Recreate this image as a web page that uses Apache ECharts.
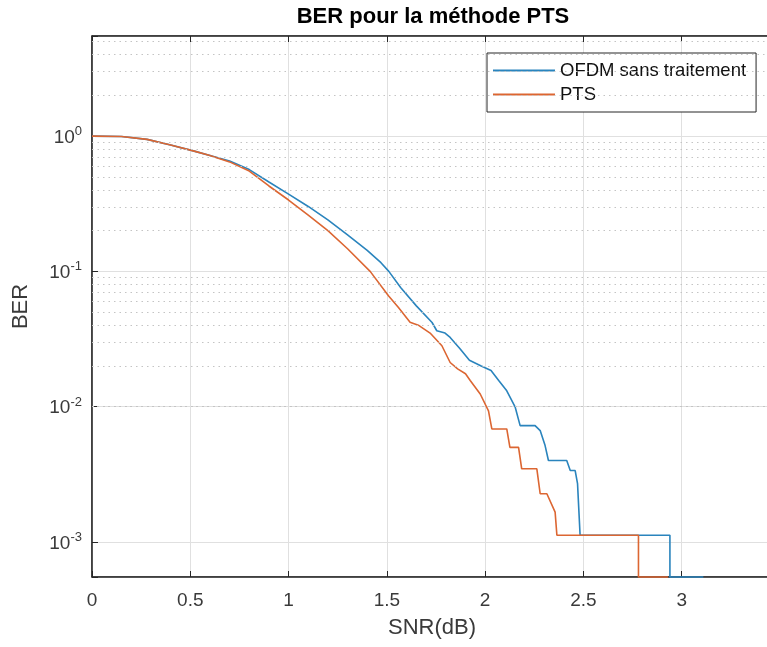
<!DOCTYPE html>
<html>
<head>
<meta charset="utf-8">
<script src="https://cdn.jsdelivr.net/npm/echarts@6/dist/echarts.min.js"></script>
<style>
  html, body { margin: 0; padding: 0; background: #fff; }
  #chart { width: 767px; height: 647px; }
</style>
</head>
<body>
<div id="chart"></div>
<script>
// axis limits
const X_MIN = 0
const X_MAX = 3.5
const Y_MIN = 5.5e-4
const Y_MAX = 5.5
// points that fall to zero are drawn on the bottom edge, like the log plot does
const BER_FLOOR = Y_MIN

// OFDM sans traitement
const ofdmSnr = [0, 0.15, 0.28, 0.40, 0.52, 0.60, 0.70, 0.80, 0.90, 1.00, 1.10, 1.20, 1.30, 1.40, 1.47, 1.51, 1.57, 1.65, 1.73, 1.754, 1.796, 1.822, 1.87, 1.92, 1.98, 2.03, 2.069, 2.11, 2.153, 2.178, 2.254, 2.28, 2.305, 2.322, 2.415, 2.433, 2.458, 2.47, 2.476, 2.483, 2.94, 2.94, 3.11]
const ofdmBer = [1, 0.995, 0.946, 0.859, 0.775, 0.72, 0.654, 0.566, 0.458, 0.373, 0.302, 0.24, 0.186, 0.143, 0.116, 0.1, 0.076, 0.0556, 0.0419, 0.0364, 0.035, 0.0325, 0.027, 0.022, 0.02, 0.0185, 0.0156, 0.0131, 0.0099, 0.00724, 0.00724, 0.00665, 0.00515, 0.0040, 0.0040, 0.00337, 0.00337, 0.0027, 0.0018, 0.00112, 0.00112, BER_FLOOR, BER_FLOOR]

// PTS
const ptsSnr = [0, 0.15, 0.28, 0.40, 0.52, 0.60, 0.70, 0.80, 0.90, 1.00, 1.10, 1.20, 1.30, 1.415, 1.508, 1.559, 1.618, 1.66, 1.72, 1.78, 1.822, 1.86, 1.90, 1.924, 1.975, 2.017, 2.034, 2.11, 2.126, 2.17, 2.186, 2.263, 2.28, 2.314, 2.356, 2.365, 2.78, 2.78, 2.93]
const ptsBer = [1, 0.995, 0.946, 0.859, 0.775, 0.718, 0.645, 0.552, 0.428, 0.337, 0.261, 0.2, 0.147, 0.1, 0.066, 0.054, 0.042, 0.04, 0.035, 0.0282, 0.0212, 0.019, 0.0175, 0.0156, 0.0124, 0.0093, 0.00684, 0.00684, 0.005, 0.005, 0.00347, 0.00347, 0.00227, 0.00227, 0.00166, 0.00112, 0.00112, BER_FLOOR, BER_FLOOR]

const seriesNames = ['OFDM sans traitement', 'PTS']
const seriesColors = ['#2a84bd', '#dc6632']

// dotted minor grid of the log axis (2..9 x 10^k)
const minorGrid = []
for (let e = -4; e <= 0; e++) {
  for (let k = 2; k <= 9; k++) {
    const v = k * Math.pow(10, e)
    if (v > Y_MIN && v < Y_MAX) minorGrid.push(v)
  }
}

function pairs (xs, ys) {
  return xs.map((x, i) => [x, ys[i]])
}

const FONT = '"Liberation Sans", Arial, Helvetica, sans-serif'
const AXIS_COLOR = '#262626'
const TEXT_COLOR = '#3a3a3a'

const chart = echarts.init(document.getElementById('chart'))

const option = {
  animation: false,
  textStyle: { fontFamily: FONT },
  title: {
    text: 'BER pour la méthode PTS',
    left: 428,
    top: 1,
    textAlign: 'center',
    textStyle: { fontFamily: FONT, fontSize: 22, fontWeight: 'bold', color: '#000' }
  },
  legend: {
    data: seriesNames,
    orient: 'vertical',
    left: 487,
    top: 53,
    icon: 'rect',
    itemWidth: 62,
    itemHeight: 2,
    itemGap: 5,
    padding: [8, 10, 8, 6],
    borderColor: AXIS_COLOR,
    borderWidth: 1,
    backgroundColor: '#fff',
    textStyle: { fontFamily: FONT, fontSize: 18.5, color: '#111' }
  },
  grid: {
    left: 92,
    top: 36,
    width: 688,
    height: 541,
    outerBoundsMode: 'none',
    containLabel: false,
    show: true,
    borderColor: AXIS_COLOR,
    borderWidth: 1
  },
  xAxis: [
    {
      type: 'value',
      min: X_MIN,
      max: X_MAX,
      interval: 0.5,
      name: 'SNR(dB)',
      nameLocation: 'middle',
      nameGap: 40,
      nameTextStyle: { fontFamily: FONT, fontSize: 22, color: TEXT_COLOR, padding: [0, 8, 0, 0] },
      axisLine: { lineStyle: { color: AXIS_COLOR, width: 1.5 } },
      axisTick: { inside: true, length: 6, lineStyle: { color: AXIS_COLOR } },
      axisLabel: { fontSize: 19, color: TEXT_COLOR, margin: 14 },
      splitLine: { show: true, lineStyle: { color: '#e0e0e0', width: 1 } }
    },
    {
      type: 'value',
      position: 'top',
      min: X_MIN,
      max: X_MAX,
      interval: 0.5,
      axisLine: { lineStyle: { color: AXIS_COLOR, width: 1.5 } },
      axisTick: { inside: true, length: 6, lineStyle: { color: AXIS_COLOR } },
      axisLabel: { show: false },
      splitLine: { show: false }
    }
  ],
  yAxis: {
    type: 'log',
    logBase: 10,
    min: Y_MIN,
    max: Y_MAX,
    name: 'BER',
    nameLocation: 'middle',
    nameGap: 60,
    nameTextStyle: { fontFamily: FONT, fontSize: 22, color: TEXT_COLOR },
    axisLine: { show: true, lineStyle: { color: AXIS_COLOR, width: 1.5 } },
    axisTick: { inside: true, length: 6, lineStyle: { color: AXIS_COLOR } },
    axisLabel: {
      margin: 10,
      formatter: function (v) {
        const e = Math.log10(v)
        if (Math.abs(e - Math.round(e)) > 1e-6) return ''
        return '{b|10}{s|' + Math.round(e) + '}'
      },
      rich: {
        b: { fontFamily: FONT, fontSize: 19, color: TEXT_COLOR, verticalAlign: 'bottom' },
        s: { fontFamily: FONT, fontSize: 13, color: TEXT_COLOR, verticalAlign: 'bottom', padding: [0, 0, 9, 0] }
      }
    },
    splitLine: { show: true, lineStyle: { color: '#e0e0e0', width: 1 } }
  },
  series: [
    {
      name: 'grid',
      type: 'line',
      data: [[X_MIN, 1]],
      symbol: 'none',
      silent: true,
      lineStyle: { width: 0, opacity: 0 },
      markLine: {
        silent: true,
        symbol: 'none',
        label: { show: false },
        lineStyle: { type: [1.5, 4], color: '#c4c4c4', width: 1 },
        data: minorGrid.map(v => ({ yAxis: v }))
      },
      z: 0
    },
    {
      name: seriesNames[0],
      type: 'line',
      data: pairs(ofdmSnr, ofdmBer),
      symbol: 'none',
      clip: false,
      lineStyle: { color: seriesColors[0], width: 1.6 },
      itemStyle: { color: seriesColors[0] },
      z: 3
    },
    {
      name: seriesNames[1],
      type: 'line',
      data: pairs(ptsSnr, ptsBer),
      symbol: 'none',
      clip: false,
      lineStyle: { color: seriesColors[1], width: 1.6 },
      itemStyle: { color: seriesColors[1] },
      z: 4
    }
  ]
}

chart.setOption(option)
</script>
</body>
</html>
